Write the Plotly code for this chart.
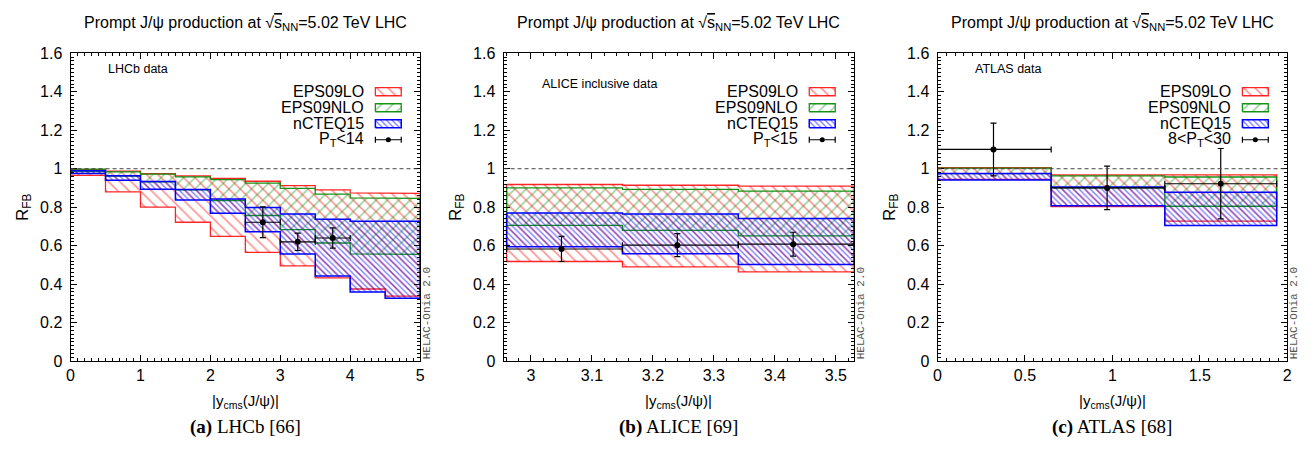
import plotly.graph_objects as go

# ---------------- Data ----------------
# Panel (a) LHCb
a_edges = [0, 0.5, 1, 1.5, 2, 2.5, 3, 3.5, 4, 4.5, 5]
a_lo_top = [0.995, 0.988, 0.975, 0.963, 0.950, 0.935, 0.912, 0.890, 0.875, 0.872]
a_lo_bot = [0.965, 0.880, 0.800, 0.722, 0.648, 0.565, 0.495, 0.433, 0.375, 0.338]
a_nlo_top = [0.998, 0.984, 0.972, 0.958, 0.943, 0.925, 0.898, 0.868, 0.848, 0.846]
a_nlo_bot = [0.985, 0.962, 0.932, 0.890, 0.835, 0.757, 0.684, 0.614, 0.558, 0.555]
a_nct_top = [0.990, 0.963, 0.933, 0.892, 0.843, 0.798, 0.765, 0.738, 0.727, 0.727]
a_nct_bot = [0.975, 0.940, 0.893, 0.838, 0.768, 0.673, 0.557, 0.443, 0.360, 0.327]
a_data_x = [2.75, 3.25, 3.75]
a_data_y = [0.722, 0.620, 0.640]
a_data_err = [0.080, 0.045, 0.053]
a_data_lo = [2.5, 3.0, 3.5]
a_data_hi = [3.0, 3.5, 4.0]

# Panel (b) ALICE
b_edges = [2.96, 3.15, 3.34, 3.53]
b_lo_top = [0.918, 0.914, 0.910]
b_lo_bot = [0.518, 0.490, 0.464]
b_nlo_top = [0.900, 0.893, 0.884]
b_nlo_bot = [0.706, 0.680, 0.651]
b_nct_top = [0.770, 0.765, 0.742]
b_nct_bot = [0.594, 0.558, 0.503]
b_data_x = [3.05, 3.24, 3.43]
b_data_y = [0.583, 0.603, 0.608]
b_data_err = [0.065, 0.060, 0.062]
b_data_lo = [2.96, 3.15, 3.34]
b_data_hi = [3.15, 3.34, 3.53]

# Panel (c) ATLAS
c_edges = [0, 0.65, 1.3, 1.94]
c_lo_top = [1.005, 0.968, 0.968]
c_lo_bot = [0.945, 0.803, 0.728]
c_nlo_top = [1.003, 0.963, 0.957]
c_nlo_bot = [0.975, 0.900, 0.805]
c_nct_top = [0.975, 0.905, 0.878]
c_nct_bot = [0.942, 0.808, 0.705]
c_data_x = [0.32, 0.97, 1.62]
c_data_y = [1.100, 0.900, 0.922]
c_data_err = [0.137, 0.113, 0.183]
c_data_lo = [0.0, 0.65, 1.3]
c_data_hi = [0.65, 1.3, 1.94]

series_names = ["EPS09LO", "EPS09NLO", "nCTEQ15"]
data_labels = ["P<sub>T</sub>&lt;14", "P<sub>T</sub>&lt;15", "8&lt;P<sub>T</sub>&lt;30"]
corner_labels = ["LHCb data", "ALICE inclusive data", "ATLAS data"]
captions = ["<b>(a)</b> LHCb [66]", "<b>(b)</b> ALICE [69]", "<b>(c)</b> ATLAS [68]"]
x_ranges = [[0, 5], [2.955, 3.53], [0, 2]]
x_dticks = [1, 0.1, 0.5]
x_tick0 = [0, 3, 0]
x_minor = [0.1, 0.02, 0.05]
y_ticks = [0, 0.2, 0.4, 0.6, 0.8, 1, 1.2, 1.4, 1.6]

# ---------------- Styles ----------------
W, H = 1314, 452
SANS = "Liberation Sans, Arial, sans-serif"
PX = [(67, 419), (503, 856), (940, 1292)]
PY = (47, 367)  # top, bottom in pixels
ydom = [1 - PY[1] / H, 1 - PY[0] / H]

styles = {
    "EPS09LO": dict(line=dict(color="rgba(255,0,0,0.85)", width=1.3),
                    fillpattern=dict(shape="\\", size=8, solidity=0.2,
                                     fgcolor="rgba(255,0,0,0.85)")),
    "EPS09NLO": dict(line=dict(color="rgba(10,140,10,0.95)", width=1.3),
                     fillpattern=dict(shape="/", size=8, solidity=0.2,
                                      fgcolor="rgba(20,150,20,0.85)")),
    "nCTEQ15": dict(line=dict(color="#0000ff", width=1.5),
                    fillpattern=dict(shape="\\", size=4, solidity=0.35,
                                     fgcolor="#0000ff")),
}


def band_path(edges, top, bot):
    xs, ys = [], []
    for i in range(len(top)):
        xs += [edges[i], edges[i + 1]]
        ys += [top[i], top[i]]
    for i in reversed(range(len(bot))):
        xs += [edges[i + 1], edges[i]]
        ys += [bot[i], bot[i]]
    xs.append(xs[0])
    ys.append(ys[0])
    return xs, ys


def axname(letter, n):
    return letter if n == 1 else f"{letter}{n}"


panels = [
    dict(edges=a_edges, bands=[(a_lo_top, a_lo_bot), (a_nlo_top, a_nlo_bot), (a_nct_top, a_nct_bot)],
         dx=a_data_x, dy=a_data_y, de=a_data_err, dlo=a_data_lo, dhi=a_data_hi),
    dict(edges=b_edges, bands=[(b_lo_top, b_lo_bot), (b_nlo_top, b_nlo_bot), (b_nct_top, b_nct_bot)],
         dx=b_data_x, dy=b_data_y, de=b_data_err, dlo=b_data_lo, dhi=b_data_hi),
    dict(edges=c_edges, bands=[(c_lo_top, c_lo_bot), (c_nlo_top, c_nlo_bot), (c_nct_top, c_nct_bot)],
         dx=c_data_x, dy=c_data_y, de=c_data_err, dlo=c_data_lo, dhi=c_data_hi),
]

fig = go.Figure()
annotations = []
shapes = []
layout_axes = {}

for p, panel in enumerate(panels):
    n = p + 1
    xa, ya = axname("x", n), axname("y", n)
    la_x, la_y = axname("x", n + 3), axname("y", n + 3)
    xkey = "xaxis" if n == 1 else f"xaxis{n}"
    ykey = "yaxis" if n == 1 else f"yaxis{n}"
    xdom = [PX[p][0] / W, PX[p][1] / W]
    # bands
    for name, (top, bot) in zip(series_names, panel["bands"]):
        xs, ys = band_path(panel["edges"], top, bot)
        st = styles[name]
        fig.add_trace(go.Scatter(x=xs, y=ys, mode="lines", fill="toself",
                                 fillcolor="rgba(0,0,0,0)", line=st["line"],
                                 fillpattern=st["fillpattern"], xaxis=xa, yaxis=ya,
                                 showlegend=False, hoverinfo="skip"))
    # data
    plus = [h - x for h, x in zip(panel["dhi"], panel["dx"])]
    minus = [x - l for l, x in zip(panel["dlo"], panel["dx"])]
    fig.add_trace(go.Scatter(x=panel["dx"], y=panel["dy"], mode="markers",
                             marker=dict(color="black", size=6),
                             error_x=dict(type="data", symmetric=False, array=plus, arrayminus=minus,
                                          color="black", thickness=1.2, width=3),
                             error_y=dict(type="data", array=panel["de"], color="black",
                                          thickness=1.2, width=3),
                             xaxis=xa, yaxis=ya, showlegend=False))

    # legend (on hidden overlay axis, fractions of plot area)
    rows = [0.875, 0.823, 0.771, 0.719]
    sx0, sx1, sh = 0.872, 0.946, 0.013
    for r, name in enumerate(series_names):
        st = styles[name]
        fig.add_trace(go.Scatter(x=[sx0, sx1, sx1, sx0, sx0],
                                 y=[rows[r] - sh, rows[r] - sh, rows[r] + sh, rows[r] + sh, rows[r] - sh],
                                 mode="lines", fill="toself", fillcolor="rgba(0,0,0,0)",
                                 line=st["line"], fillpattern=st["fillpattern"],
                                 xaxis=la_x, yaxis=la_y, showlegend=False, hoverinfo="skip"))
        annotations.append(dict(x=0.845, y=rows[r], xref=la_x, yref=la_y, text=name,
                                showarrow=False, xanchor="right", yanchor="middle",
                                font=dict(family=SANS, size=16, color="black")))
    mid = (sx0 + sx1) / 2
    fig.add_trace(go.Scatter(x=[mid], y=[rows[3]], mode="markers",
                             marker=dict(color="black", size=5),
                             error_x=dict(type="data", array=[(sx1 - sx0) / 2], color="black",
                                          thickness=1.2, width=3),
                             xaxis=la_x, yaxis=la_y, showlegend=False, hoverinfo="skip"))
    annotations.append(dict(x=0.845, y=rows[3], xref=la_x, yref=la_y, text=data_labels[p],
                            showarrow=False, xanchor="right", yanchor="middle",
                            font=dict(family=SANS, size=16, color="black")))

    # axes
    layout_axes[xkey] = dict(domain=xdom, range=x_ranges[p], anchor=ya,
                             tick0=x_tick0[p], dtick=x_dticks[p], ticks="inside",
                             ticklen=6, tickcolor="black", showline=True, linecolor="black",
                             linewidth=1, mirror="ticks", showgrid=False, zeroline=False,
                             tickfont=dict(family=SANS, size=16, color="black"),
                             minor=dict(dtick=x_minor[p], ticks="inside", ticklen=3,
                                        tickcolor="black", tickwidth=1, showgrid=False))
    layout_axes[ykey] = dict(domain=ydom, range=[0, 1.6], anchor=xa,
                             tickvals=y_ticks, ticks="inside",
                             ticklen=6, tickcolor="black", showline=True, linecolor="black",
                             linewidth=1, mirror="ticks", showgrid=False, zeroline=False,
                             ticklabelstandoff=4,
                             tickfont=dict(family=SANS, size=16, color="black"),
                             minor=dict(dtick=0.02, ticks="inside", ticklen=3,
                                        tickcolor="black", tickwidth=1, showgrid=False))
    layout_axes[f"xaxis{n + 3}"] = dict(overlaying=xa, range=[0, 1], visible=False,
                                        anchor=la_y, fixedrange=True)
    layout_axes[f"yaxis{n + 3}"] = dict(overlaying=ya, range=[0, 1], visible=False,
                                        anchor=la_x, fixedrange=True)

    # dashed line at 1
    shapes.append(dict(type="line", xref=f"{xa} domain", yref=ya, x0=0, x1=1, y0=1, y1=1,
                       line=dict(color="#444444", width=1, dash="4px,3px"), layer="above"))

    cx = (xdom[0] + xdom[1]) / 2
    # title
    annotations.append(dict(x=cx, y=1 - 16 / H, xref="paper", yref="paper",
                            text="Prompt J/ψ production at √<span style='text-decoration:overline'>s</span><sub>NN</sub>=5.02 TeV LHC",
                            showarrow=False, xanchor="center", yanchor="middle",
                            font=dict(family=SANS, size=16, color="black")))
    # corner label
    annotations.append(dict(x=[0.10, 0.105, 0.10][p], y=[0.95, 0.90, 0.95][p],
                            xref=f"{xa} domain", yref=f"{ya} domain",
                            text=corner_labels[p], showarrow=False, xanchor="left",
                            yanchor="middle", font=dict(family=SANS, size=12.5, color="black")))
    # y label
    annotations.append(dict(x=(PX[p][0] - 47) / W, y=(ydom[0] + ydom[1]) / 2,
                            xref="paper", yref="paper", text="R<sub>FB</sub>", textangle=-90,
                            showarrow=False, xanchor="center", yanchor="middle",
                            font=dict(family=SANS, size=17, color="black")))
    # x label
    annotations.append(dict(x=cx, y=1 - 409 / H, xref="paper", yref="paper",
                            text="|y<sub>cms</sub>(J/ψ)|", showarrow=False,
                            xanchor="center", yanchor="middle",
                            font=dict(family=SANS, size=15, color="black")))
    # caption
    annotations.append(dict(x=cx, y=1 - 435 / H, xref="paper", yref="paper",
                            text=captions[p], showarrow=False,
                            xanchor="center", yanchor="middle",
                            font=dict(family="Liberation Serif, Times New Roman, serif",
                                      size=19, color="black")))
    # HELAC-Onia tag
    annotations.append(dict(x=(PX[p][1] + 7) / W, y=ydom[0], xref="paper", yref="paper",
                            text="HELAC-Onia 2.0", textangle=-90, showarrow=False,
                            xanchor="center", yanchor="bottom",
                            font=dict(family="Liberation Mono, DejaVu Sans Mono, monospace",
                                      size=11, color="#555555")))

fig.update_layout(width=W, height=H, margin=dict(l=0, r=0, t=0, b=0),
                  paper_bgcolor="white", plot_bgcolor="white",
                  showlegend=False, annotations=annotations, shapes=shapes,
                  **layout_axes)

fig.write_html("out.html", config={"displayModeBar": False},
               post_script="document.body.style.margin='0';document.body.style.padding='0';")
